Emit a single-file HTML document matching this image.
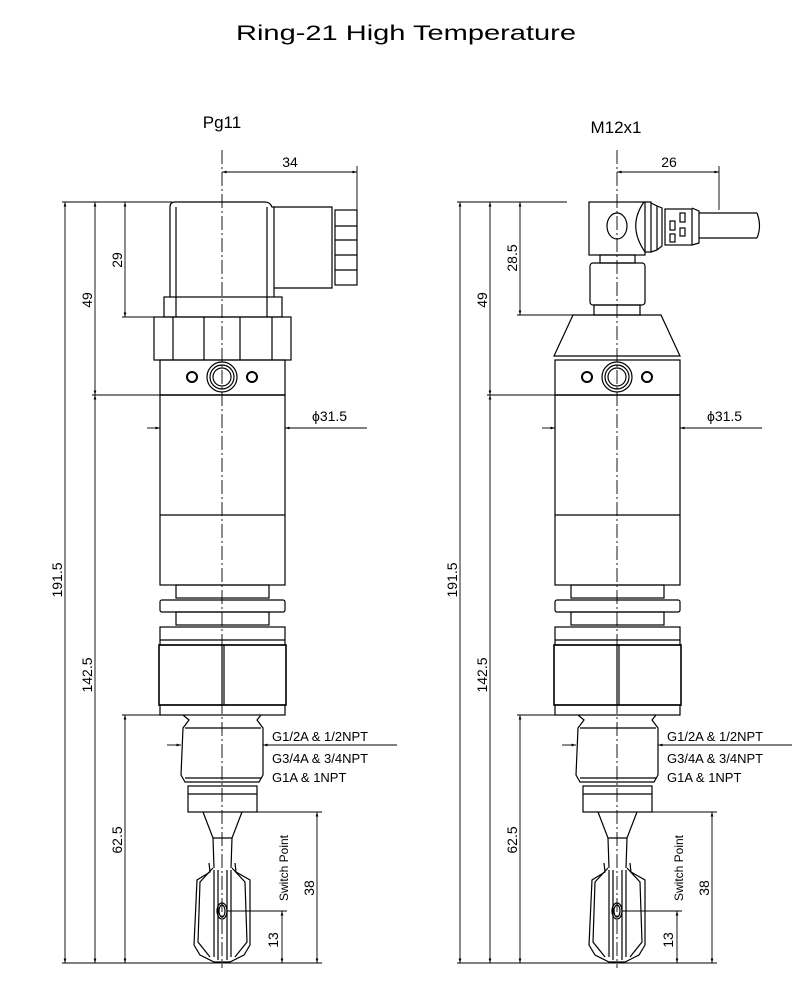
<!DOCTYPE html>
<html><head><meta charset="utf-8"><style>
html,body{margin:0;padding:0;background:#fff}
svg{display:block}
text{font-family:"Liberation Sans","WenQuanYi Zen Hei",sans-serif;fill:#000}
</style></head><body>
<svg width="812" height="1001" viewBox="0 0 812 1001" xmlns="http://www.w3.org/2000/svg">
<defs>
<marker id="a" viewBox="0 0 10 6" refX="10" refY="3" markerWidth="6" markerHeight="3" orient="auto-start-reverse"><path d="M0,0L10,3L0,6z" fill="#000"/></marker>
<g id="lower" fill="none" stroke="#000" stroke-width="1.2">
  <rect x="-62" y="360" width="125" height="35"/>
  <line x1="-62" y1="395" x2="63" y2="395"/>
  <rect x="-62" y="395" width="125" height="190"/>
  <line x1="-62" y1="515" x2="63" y2="515"/>
  <circle cx="0" cy="377" r="15"/><circle cx="0" cy="377" r="12"/><circle cx="0" cy="377" r="9"/>
  <circle cx="-30" cy="377" r="5" stroke-width="2"/><circle cx="30" cy="377" r="5" stroke-width="2"/>
  <rect x="-46" y="585" width="93" height="13"/>
  <rect x="-62" y="600" width="125" height="12" rx="2"/>
  <rect x="-46" y="612" width="93" height="13"/>
  <rect x="-62" y="627" width="125" height="18"/>
  <line x1="-62" y1="640" x2="63" y2="640"/>
  <rect x="-63" y="645" width="127" height="60" stroke-width="1.6"/>
  <line x1="0" y1="645" x2="0" y2="705"/><line x1="2" y1="645" x2="2" y2="705"/>
  <rect x="-62" y="705" width="125" height="10"/>
  <path d="M-39,715 L-33,720 L-39,728 L-41,775 L-37,782 L37,782 L41,775 L41,728 L35,720 L39,715"/>
  <line x1="-37" y1="728" x2="39" y2="728"/>
  <line x1="-37" y1="778" x2="39" y2="778"/>
  <rect x="-34" y="786" width="69" height="26"/>
  <line x1="-34" y1="794" x2="35" y2="794"/>
  <path d="M-19,812 L-9,838 L-8,868 M20,812 L10,838 L9,868"/>
  <line x1="-9" y1="838" x2="10" y2="838"/>
  <path d="M-13,863 L-12,872 L-25,880 L-28,945 L-22,955 L-8,962 L8,962 L22,955 L28,945 L28,880 L14,872 L13,863"/>
  <path d="M-9,868 L-22,882 L-24,942 L-12,957 M10,868 L23,882 L25,942 L13,957"/>
  <line x1="-8" y1="870" x2="-8" y2="957"/><line x1="9" y1="870" x2="9" y2="957"/>
  <line x1="-4" y1="870" x2="-4" y2="960"/><line x1="5" y1="870" x2="5" y2="960"/>
  <ellipse cx="0" cy="911" rx="5" ry="8"/><ellipse cx="0" cy="911" rx="3" ry="6"/>
  <line x1="0" y1="150" x2="0" y2="968" stroke-width="0.9" stroke-dasharray="14,3,2,3"/>
</g>
<g id="dims" fill="none" stroke="#000" stroke-width="0.9">
  <line x1="-160" y1="202" x2="-50" y2="202"/>
  <line x1="-160" y1="963" x2="100" y2="963"/>
  <line x1="-100" y1="715" x2="-62" y2="715"/>
  <line x1="-130" y1="395" x2="-62" y2="395"/>
  <line x1="-157" y1="202" x2="-157" y2="963" marker-start="url(#a)" marker-end="url(#a)"/>
  <line x1="-127" y1="202" x2="-127" y2="395" marker-start="url(#a)" marker-end="url(#a)"/>
  <line x1="-127" y1="395" x2="-127" y2="963" marker-start="url(#a)" marker-end="url(#a)"/>
  <line x1="-97" y1="715" x2="-97" y2="963" marker-start="url(#a)" marker-end="url(#a)"/>
  <line x1="-75" y1="428" x2="-62" y2="428" marker-end="url(#a)"/>
  <line x1="145" y1="428" x2="63" y2="428" marker-end="url(#a)"/>
  <line x1="-55" y1="745" x2="-41" y2="745" marker-end="url(#a)"/>
  <line x1="175" y1="745" x2="41" y2="745" marker-end="url(#a)"/>
  <line x1="35" y1="812" x2="100" y2="812"/>
  <line x1="5" y1="911" x2="65" y2="911"/>
  <line x1="95" y1="812" x2="95" y2="963" marker-start="url(#a)" marker-end="url(#a)"/>
  <line x1="60" y1="911" x2="60" y2="963" marker-start="url(#a)" marker-end="url(#a)"/>
</g>
</defs>

<text x="406" y="40" font-size="21" text-anchor="middle" textLength="340" lengthAdjust="spacingAndGlyphs">Ring-21 High Temperature</text>
<text x="222" y="128" font-size="17" text-anchor="middle">Pg11</text>
<text x="616" y="133" font-size="17" text-anchor="middle">M12x1</text>

<g transform="translate(222,0)">
  <use href="#lower"/>
  <use href="#dims"/>
  <g fill="none" stroke="#000" stroke-width="1.2">
    <path d="M-52,297 L-52,207 Q-52,202 -47,202 L43,202 Q48,202 50,207 L52,207 L52,297"/>
    <line x1="-46" y1="207" x2="-46" y2="317"/><line x1="45" y1="207" x2="45" y2="317"/>
    <rect x="-58" y="297" width="118" height="20"/>
    <rect x="-68" y="317" width="137" height="43"/>
    <line x1="-49" y1="317" x2="-49" y2="360"/><line x1="-18" y1="317" x2="-18" y2="360"/>
    <line x1="18" y1="317" x2="18" y2="360"/><line x1="50" y1="317" x2="50" y2="360"/>
    <path d="M52,207 L110,207 L110,288 L52,288"/>
    <rect x="113" y="210" width="22" height="75"/>
    <line x1="113" y1="226" x2="135" y2="226"/><line x1="113" y1="240" x2="135" y2="240"/>
    <line x1="113" y1="255" x2="135" y2="255"/><line x1="113" y1="270" x2="135" y2="270"/>
  </g>
  <g fill="none" stroke="#000" stroke-width="0.9">
    <line x1="0" y1="172" x2="135" y2="172" marker-start="url(#a)" marker-end="url(#a)"/>
    <line x1="135" y1="166" x2="135" y2="210"/>
    <line x1="-100" y1="317" x2="-68" y2="317"/>
    <line x1="-97" y1="202" x2="-97" y2="317" marker-start="url(#a)" marker-end="url(#a)"/>
  </g>
  <text x="68" y="167" font-size="14" text-anchor="middle">34</text>
  <text transform="translate(-100,260) rotate(-90)" font-size="14" text-anchor="middle">29</text>
</g>

<g transform="translate(617,0)">
  <use href="#lower"/>
  <use href="#dims"/>
  <g fill="none" stroke="#000" stroke-width="1.2">
    <path d="M-44,315 L-63,356 L63,356 L44,315 Z"/>
    <rect x="-28" y="202" width="56" height="53"/>
    <ellipse cx="0" cy="226" rx="10" ry="13"/>
    <path d="M27,202 Q10,226 28,252"/>
    <rect x="-17" y="255" width="35" height="8"/>
    <rect x="-27" y="263" width="55" height="42" rx="3"/>
    <rect x="-23" y="305" width="46" height="10"/>
    <path d="M28,202 L34,202 L34,252 L28,252"/>
    <path d="M34,203 L40,206 L40,250 L34,252 M40,206 L45,208 L45,246 L40,250"/>
    <rect x="48" y="209" width="27" height="36"/>
    <rect x="53" y="221" width="5" height="9"/><rect x="53" y="234" width="5" height="8"/>
    <rect x="63" y="213" width="5" height="9"/><rect x="63" y="228" width="5" height="8"/>
    <path d="M75,208 L82,211 L82,243 L75,245 M82,213 L140,213 M82,238 L140,238"/>
    <path d="M140,213 Q145,226 140,238"/>
  </g>
  <g fill="none" stroke="#000" stroke-width="0.9">
    <line x1="0" y1="172" x2="102" y2="172" marker-start="url(#a)" marker-end="url(#a)"/>
    <line x1="102" y1="166" x2="102" y2="210"/>
    <line x1="-100" y1="315" x2="-44" y2="315"/>
    <line x1="-97" y1="202" x2="-97" y2="315" marker-start="url(#a)" marker-end="url(#a)"/>
  </g>
  <text x="52" y="167" font-size="14" text-anchor="middle">26</text>
  <text transform="translate(-100,258) rotate(-90)" font-size="14" text-anchor="middle">28.5</text>
</g>

<g font-size="14">
  <text transform="translate(62,580) rotate(-90)" text-anchor="middle">191.5</text>
  <text transform="translate(92,300) rotate(-90)" text-anchor="middle">49</text>
  <text transform="translate(92,675) rotate(-90)" text-anchor="middle">142.5</text>
  <text transform="translate(122,840) rotate(-90)" text-anchor="middle">62.5</text>
  <text x="312" y="421">ϕ31.5</text>
  <text x="272" y="741" font-size="13">G1/2A &amp; 1/2NPT</text>
  <text x="272" y="763" font-size="13">G3/4A &amp; 3/4NPT</text>
  <text x="272" y="782" font-size="13">G1A &amp; 1NPT</text>
  <text transform="translate(288,868) rotate(-90)" text-anchor="middle" font-size="12">Switch Point</text>
  <text transform="translate(314,888) rotate(-90)" text-anchor="middle">38</text>
  <text transform="translate(278,940) rotate(-90)" text-anchor="middle">13</text>

  <text transform="translate(457,580) rotate(-90)" text-anchor="middle">191.5</text>
  <text transform="translate(487,300) rotate(-90)" text-anchor="middle">49</text>
  <text transform="translate(487,675) rotate(-90)" text-anchor="middle">142.5</text>
  <text transform="translate(517,840) rotate(-90)" text-anchor="middle">62.5</text>
  <text x="707" y="421">ϕ31.5</text>
  <text x="667" y="741" font-size="13">G1/2A &amp; 1/2NPT</text>
  <text x="667" y="763" font-size="13">G3/4A &amp; 3/4NPT</text>
  <text x="667" y="782" font-size="13">G1A &amp; 1NPT</text>
  <text transform="translate(683,868) rotate(-90)" text-anchor="middle" font-size="12">Switch Point</text>
  <text transform="translate(709,888) rotate(-90)" text-anchor="middle">38</text>
  <text transform="translate(673,940) rotate(-90)" text-anchor="middle">13</text>
</g>
</svg>
</body></html>
